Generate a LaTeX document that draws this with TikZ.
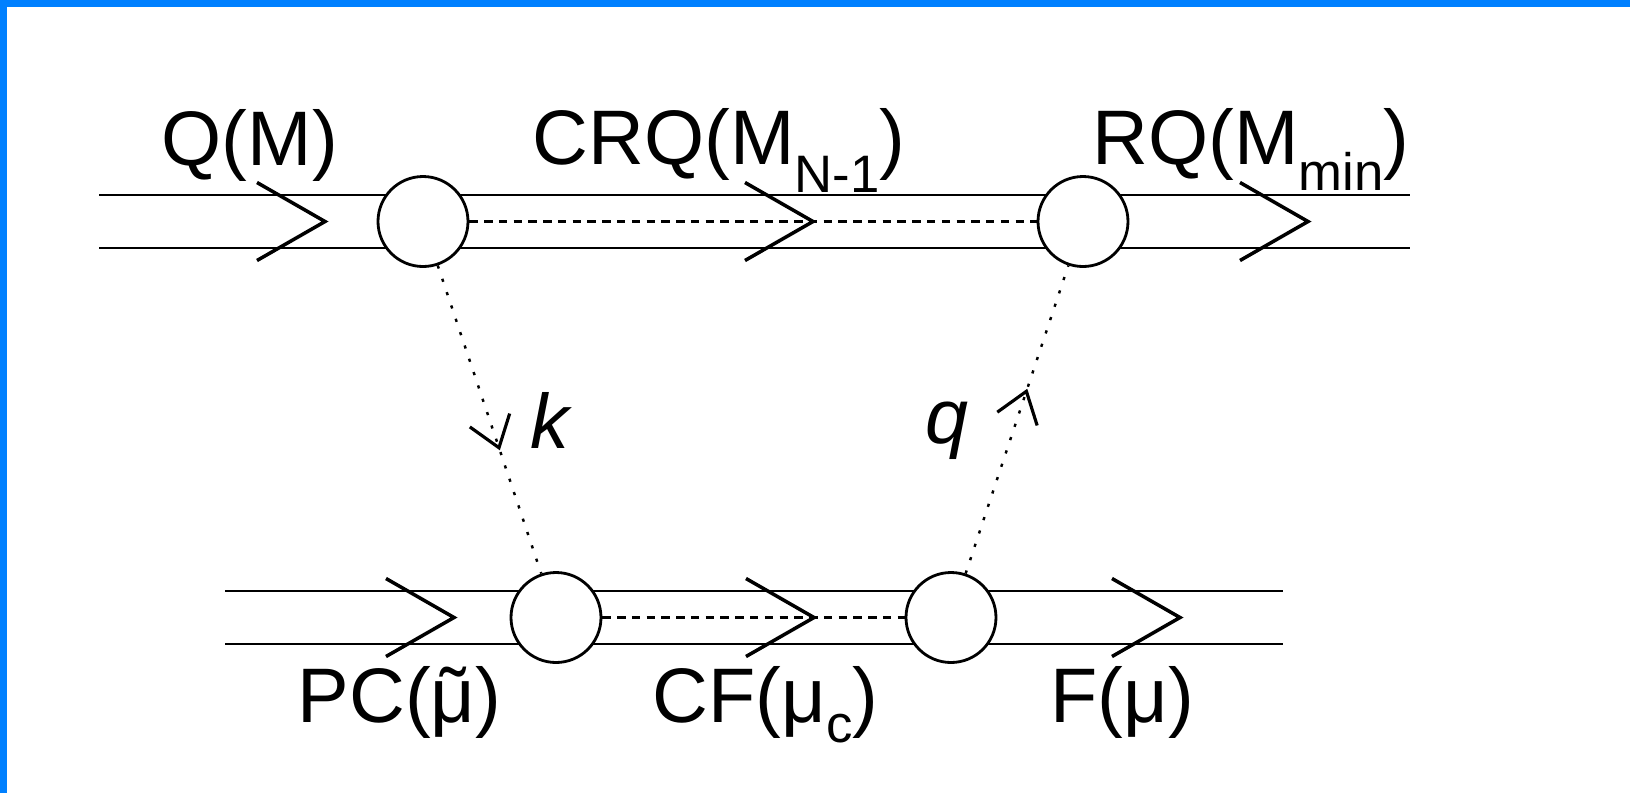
\documentclass[tikz,border=0pt]{standalone}
\usepackage{fontspec}
\setmainfont{Liberation Sans}
\usetikzlibrary{arrows.meta,decorations.markings}
\definecolor{frameblue}{RGB}{0,128,255}
\newcommand{\lowsub}[2]{\raisebox{#1}{\fontsize{15}{15}\selectfont #2}}
\newcommand{\tmu}{\ooalign{μ\cr\hidewidth\char"02DC\hidewidth\cr}}

\begin{document}
\begin{tikzpicture}[
		rail/.style={line width=0.8pt},
		chev/.style={line width=1pt},
		vertex/.style={circle,draw,fill=white,line width=0.8pt,minimum size=0.9cm,inner sep=0pt},
		link/.style={line width=0.6pt,dash pattern=on 2.4pt off 1.8pt},
		dotlink/.style={line width=0.7pt,dash pattern=on 0.9pt off 3.1pt},
		flow/.style={decoration={markings,mark=at position 0.6 with {\arrow{Straight Barb[length=0.29cm,width=0.42cm,line width=0.9pt]}}},postaction={decorate}},
		lab/.style={anchor=base west,inner sep=0pt,font=\fontsize{22}{26}\selectfont}
	]
			\useasboundingbox (0,0) rectangle (16.30,-7.93);
			\fill[frameblue] (0,0) rectangle (16.30,-0.07);
			\fill[frameblue] (0,0) rectangle (0.07,-7.93);
			\coordinate (tl) at (0.99,-2.215);
			\coordinate (tr) at (14.10,-2.215);
			\coordinate (bl) at (2.25,-6.175);
			\coordinate (br) at (12.83,-6.175);
			\draw[rail] ([yshift=0.265cm]tl) -- ([yshift=0.265cm]tr);
			\draw[rail] ([yshift=-0.265cm]tl) -- ([yshift=-0.265cm]tr);
			\draw[rail] ([yshift=0.265cm]bl) -- ([yshift=0.265cm]br);
			\draw[rail] ([yshift=-0.265cm]bl) -- ([yshift=-0.265cm]br);
			\node[vertex] (top1) at (4.23,-2.215) {};
			\node[vertex] (top2) at (10.83,-2.215) {};
			\node[vertex] (bot1) at (5.56,-6.175) {};
			\node[vertex] (bot2) at (9.51,-6.175) {};
			\draw[link] (top1) -- (top2);
			\draw[link] (bot1) -- (bot2);
			\draw[dotlink,flow] (top1) -- (bot1);
			\draw[dotlink,flow] (bot2) -- (top2);
			\draw[chev] (2.57,-1.825) -- (3.25,-2.215) -- (2.57,-2.605);
			\draw[chev] (7.45,-1.825) -- (8.13,-2.215) -- (7.45,-2.605);
			\draw[chev] (12.40,-1.825) -- (13.08,-2.215) -- (12.40,-2.605);
			\draw[chev] (3.86,-5.785) -- (4.54,-6.175) -- (3.86,-6.565);
			\draw[chev] (7.46,-5.785) -- (8.14,-6.175) -- (7.46,-6.565);
			\draw[chev] (11.12,-5.785) -- (11.80,-6.175) -- (11.12,-6.565);
			\node[lab] (lq) at (1.61,-1.65) {Q(M)};
			\node[lab] (lcrq) at (5.32,-1.64) {CRQ(M\lowsub{-0.28cm}{N-1})};
			\node[lab] (lrq) at (10.92,-1.64) {RQ(M\lowsub{-0.26cm}{min})};
			\node[lab] (lpc) at (2.97,-7.22) {PC(\tmu)};
			\node[lab] (lcf) at (6.52,-7.22) {CF(μ\lowsub{-0.2cm}{c})};
			\node[lab] (lf) at (10.50,-7.22) {F(μ)};
			\node[lab,font=\fontsize{22}{26}\selectfont\itshape] (lk) at (5.30,-4.48) {k};
			\node[lab,font=\fontsize{22}{26}\selectfont\itshape] (lqq) at (9.25,-4.43) {q};
		\end{tikzpicture}
\end{document}
